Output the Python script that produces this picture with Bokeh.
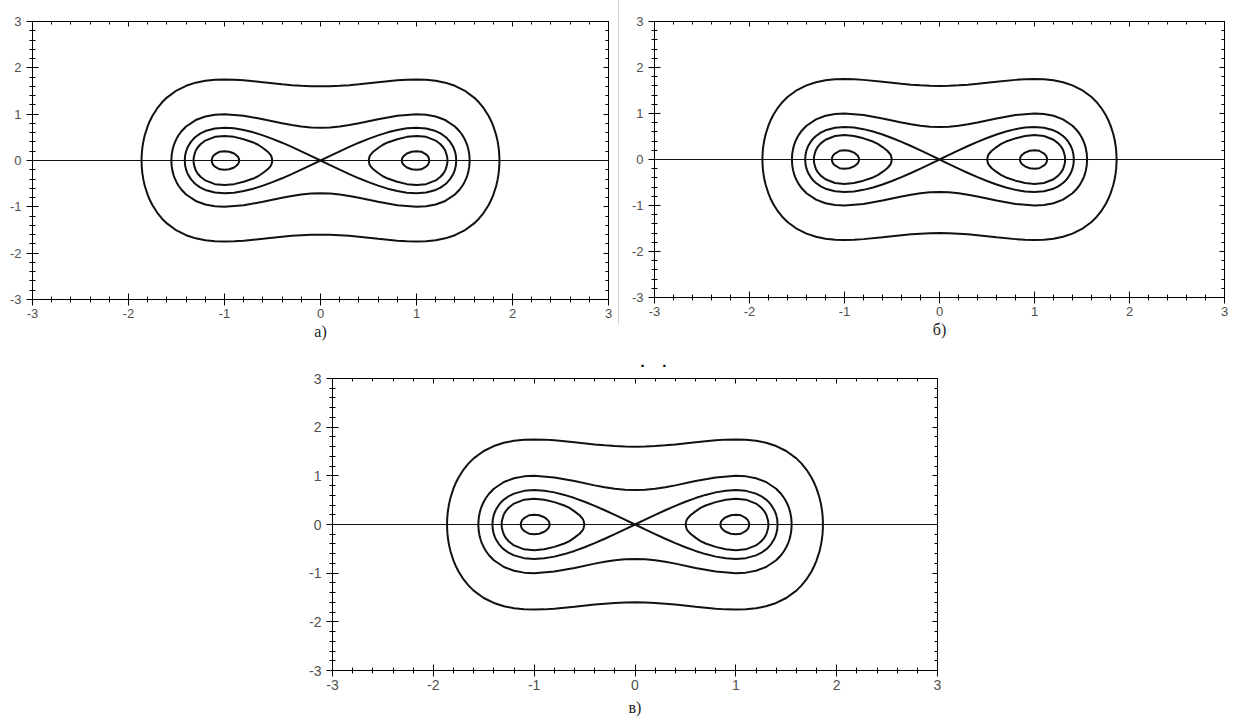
from bokeh.plotting import figure
from bokeh.models import (Range1d, LinearAxis, SingleIntervalTicker, Span, Title,
                          Spacer, ColumnDataSource, CustomJSTickFormatter)
from bokeh.layouts import row, column
from bokeh.embed import file_html
from bokeh.resources import INLINE

# Phase portrait orbits (upper halves, right side); the rest follows by symmetry.
# small orbit around the right centre (1, 0)
CENTER_X = [0.847, 0.85, 0.86, 0.88, 0.90, 0.95, 1.00, 1.05, 1.10, 1.12, 1.13, 1.133]
CENTER_Y = [0.00, 0.04, 0.08, 0.12, 0.15, 0.19, 0.20, 0.19, 0.13, 0.09, 0.04, 0.00]

# teardrop orbit around the right centre
TEAR_X = [0.502, 0.51, 0.52, 0.55, 0.60, 0.65, 0.70, 0.80, 0.90, 1.00, 1.10, 1.20,
          1.25, 1.28, 1.30, 1.31, 1.32, 1.323]
TEAR_Y = [0.00, 0.08, 0.12, 0.19, 0.27, 0.34, 0.39, 0.46, 0.51, 0.53, 0.51, 0.43,
          0.35, 0.28, 0.21, 0.15, 0.07, 0.00]

# separatrix lobe (through the saddle at the origin)
SEP_X = [0.0, 0.1, 0.2, 0.3, 0.4, 0.5, 0.6, 0.7, 0.8, 0.9, 1.0, 1.1, 1.2, 1.25,
         1.3, 1.32, 1.35, 1.38, 1.39, 1.40, 1.41, 1.414]
SEP_Y = [0.000, 0.100, 0.198, 0.293, 0.384, 0.468, 0.543, 0.608, 0.660, 0.694,
         0.707, 0.691, 0.635, 0.585, 0.512, 0.474, 0.402, 0.302, 0.256, 0.198,
         0.109, 0.000]

# orbit just outside the separatrix (from x = 0 to its right edge)
MID_X = [0.0, 0.1, 0.2, 0.3, 0.4, 0.6, 0.8, 1.0, 1.1, 1.2, 1.3, 1.4, 1.45, 1.48,
         1.50, 1.52, 1.53, 1.54, 1.55, 1.554]
MID_Y = [0.707, 0.714, 0.734, 0.764, 0.804, 0.892, 0.967, 1.000, 0.989, 0.950,
         0.873, 0.734, 0.626, 0.540, 0.468, 0.376, 0.318, 0.244, 0.128, 0.000]

# outermost orbit
OUTER_X = [0.0, 0.1, 0.2, 0.3, 0.4, 0.6, 0.8, 0.9, 1.0, 1.1, 1.2, 1.3, 1.4, 1.5,
           1.6, 1.65, 1.7, 1.75, 1.78, 1.8, 1.83, 1.845, 1.855, 1.86, 1.863, 1.864]
OUTER_Y = [1.600, 1.603, 1.612, 1.626, 1.645, 1.690, 1.731, 1.744, 1.749, 1.743,
           1.721, 1.680, 1.612, 1.510, 1.358, 1.256, 1.129, 0.966, 0.842, 0.742,
           0.549, 0.413, 0.285, 0.188, 0.087, 0.000]

AXIS_TICKS = [-3, -2, -1, 0, 1, 2, 3]
CAPTIONS = ["а)", "б)", "в)"]


def lobe(xs, ys, sign):
    """Closed orbit around one centre: upper half, then lower half back."""
    px = [sign * v for v in xs] + [sign * v for v in xs[::-1]]
    py = list(ys) + [-v for v in ys[::-1]]
    return px, py


def ring(xs, ys):
    """Closed orbit enclosing both centres."""
    px = list(xs) + xs[::-1] + [-v for v in xs] + [-v for v in xs[::-1]]
    py = list(ys) + [-v for v in ys[::-1]] + [-v for v in ys] + list(ys[::-1])
    return px, py


def orbits():
    xs, ys = [], []
    for cx, cy in [(CENTER_X, CENTER_Y), (TEAR_X, TEAR_Y), (SEP_X, SEP_Y)]:
        for s in (1, -1):
            a, b = lobe(cx, cy, s)
            xs.append(a)
            ys.append(b)
    for cx, cy in [(MID_X, MID_Y), (OUTER_X, OUTER_Y)]:
        a, b = ring(cx, cy)
        xs.append(a)
        ys.append(b)
    return ColumnDataSource(data=dict(xs=xs, ys=ys))


def ticker():
    return SingleIntervalTicker(interval=1, num_minor_ticks=5)


def panel(caption, fw, fh, left, right, top, bottom, label_px, cap_standoff):
    p = figure(x_range=Range1d(AXIS_TICKS[0], AXIS_TICKS[-1]),
               y_range=Range1d(AXIS_TICKS[0], AXIS_TICKS[-1]),
               frame_width=fw, frame_height=fh,
               min_border_left=left, min_border_right=right,
               min_border_top=top, min_border_bottom=bottom,
               output_backend="svg", toolbar_location=None)
    p.xgrid.visible = False
    p.ygrid.visible = False
    p.outline_line_color = "black"
    p.outline_line_width = 1
    p.background_fill_color = "white"
    p.border_fill_color = "white"

    for ax in list(p.xaxis) + list(p.yaxis):
        ax.ticker = ticker()
        ax.formatter = CustomJSTickFormatter(code="return tick.toFixed(0);")
        ax.axis_line_color = "black"
        ax.major_tick_line_color = "black"
        ax.minor_tick_line_color = "black"
        ax.major_tick_in = 6
        ax.major_tick_out = 6
        ax.minor_tick_in = 3
        ax.minor_tick_out = 3
        ax.major_label_text_font = "Liberation Sans"
        ax.major_label_text_font_size = f"{label_px}px"
        ax.major_label_text_color = "#505050"
    p.xaxis.major_label_standoff = 3
    p.yaxis.major_label_standoff = 5

    for side in ("above", "right"):
        ax = LinearAxis(ticker=ticker(),
                        major_tick_in=5, major_tick_out=0,
                        minor_tick_in=3, minor_tick_out=0,
                        major_label_text_font_size="0px",
                        major_label_text_color=None,
                        major_label_standoff=0,
                        axis_line_color="black",
                        major_tick_line_color="black",
                        minor_tick_line_color="black")
        p.add_layout(ax, side)

    p.add_layout(Span(location=0, dimension="width", line_color="#111111", line_width=1))
    p.multi_line(xs="xs", ys="ys", source=orbits(), line_color="#111111", line_width=2)

    p.add_layout(Title(text=caption, align="center", text_font="Liberation Serif",
                       text_font_size="16px", text_font_style="normal",
                       text_color="#222222", standoff=cap_standoff), "below")
    return p


pa = panel(CAPTIONS[0], 576, 278, 32, 10, 21, 46, 13, 0)
pb = panel(CAPTIONS[1], 570, 276, 35, 13, 15, 54, 13, 1)
pc = panel(CAPTIONS[2], 605, 292, 32, 10, 33, 53, 14, 8)

# two stray dots above the lower panel
pc.add_layout(Title(text="·\u00a0\u00a0\u00a0\u00a0·", align="left", offset=308,
                    text_font="Liberation Sans", text_font_size="15px",
                    text_font_style="bold", text_color="black", standoff=9), "above")

divider = Spacer(width=1, height=325, styles={"background-color": "#d4d4d4"})

layout = column(row(pa, divider, pb), row(Spacer(width=300, height=10), pc))

open("out.html", "w").write(file_html(layout, INLINE))
